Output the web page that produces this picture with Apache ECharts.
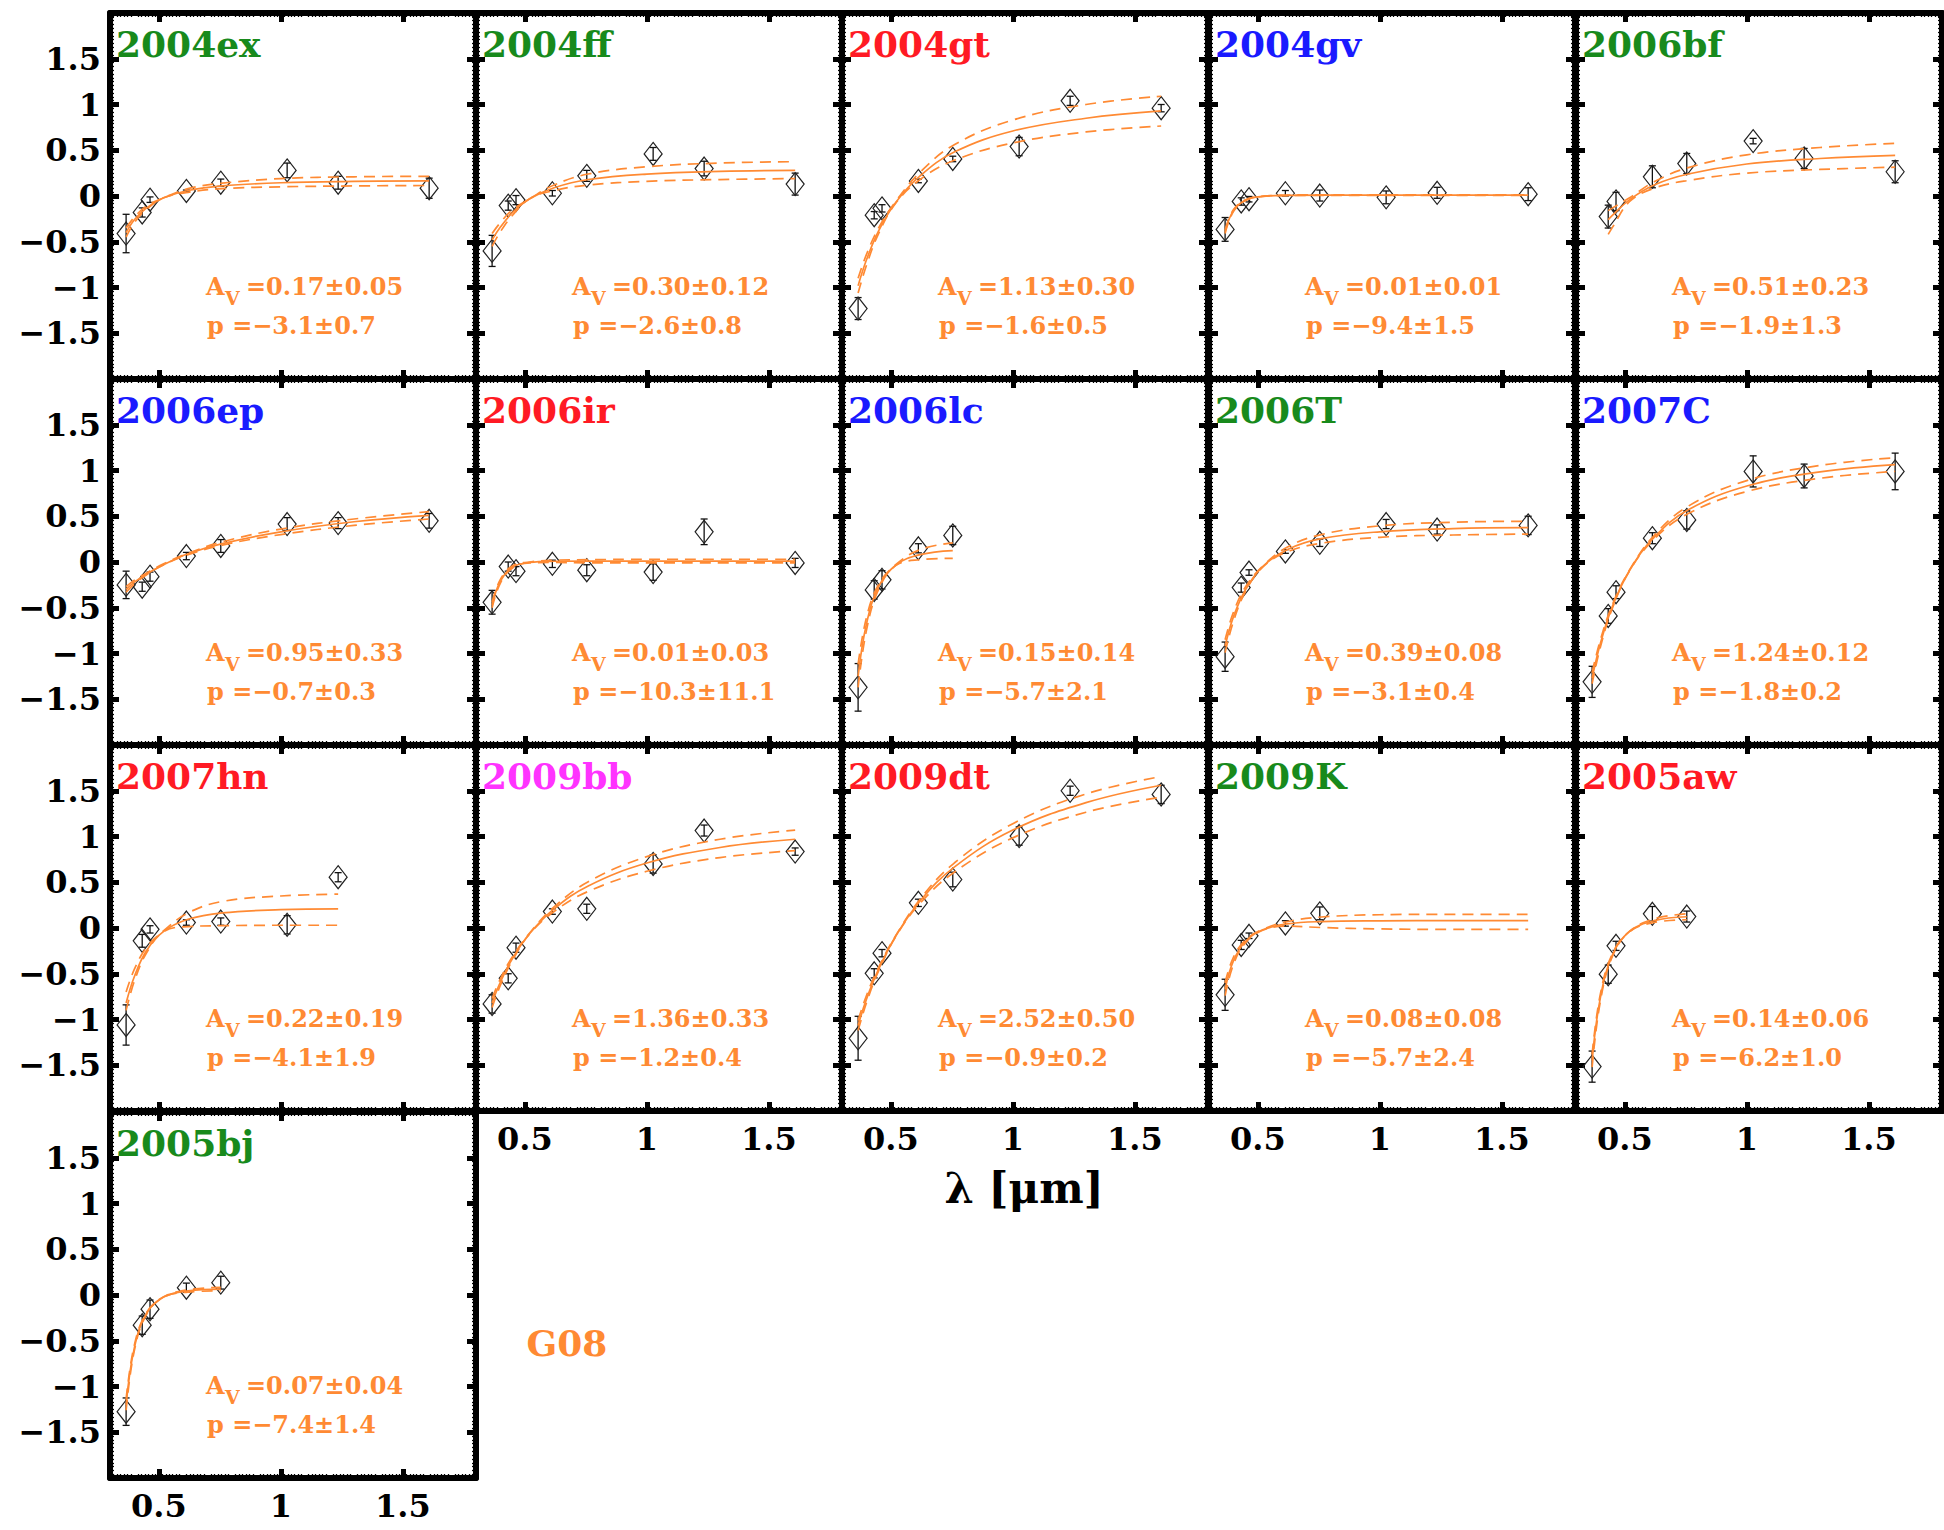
<!DOCTYPE html>
<html><head><meta charset="utf-8">
<script src="https://cdn.jsdelivr.net/npm/echarts@6/dist/echarts.min.js"></script>
<style>html,body{margin:0;padding:0;background:#fff}#c{width:1944px;height:1530px}</style>
</head><body><div id="c"></div>
<script>
// ---------------- DATA ----------------
const panelNames = ['2004ex','2004ff','2004gt','2004gv','2006bf','2006ep','2006ir','2006lc','2006T','2007C','2007hn','2009bb','2009dt','2009K','2005aw','2005bj'];
const nameColors = ['#188a1c','#188a1c','#ff1a24','#1a1aff','#188a1c','#1a1aff','#ff1a24','#1a1aff','#188a1c','#1a1aff','#ff1a24','#ff33ff','#ff1a24','#188a1c','#ff1a24','#188a1c'];
const avLabels = ['0.17\u00b10.05','0.30\u00b10.12','1.13\u00b10.30','0.01\u00b10.01','0.51\u00b10.23','0.95\u00b10.33','0.01\u00b10.03','0.15\u00b10.14','0.39\u00b10.08','1.24\u00b10.12','0.22\u00b10.19','1.36\u00b10.33','2.52\u00b10.50','0.08\u00b10.08','0.14\u00b10.06','0.07\u00b10.04'];
const pLabels = ['\u22123.1\u00b10.7','\u22122.6\u00b10.8','\u22121.6\u00b10.5','\u22129.4\u00b11.5','\u22121.9\u00b11.3','\u22120.7\u00b10.3','\u221210.3\u00b111.1','\u22125.7\u00b12.1','\u22123.1\u00b10.4','\u22121.8\u00b10.2','\u22124.1\u00b11.9','\u22121.2\u00b10.4','\u22120.9\u00b10.2','\u22125.7\u00b12.4','\u22126.2\u00b11.0','\u22127.4\u00b11.4'];

const filterNames = ['u','B','g','r','i','Y','J','H'];
const filterLambda = [0.366, 0.432, 0.464, 0.613, 0.754, 1.026, 1.235, 1.608];
const xTickValues = [0.5, 1, 1.5];

const panelFilters = ['uBgriYJH','uBgriYJH','uBgriYJH','uBgriYJH','BgriYJH','uBgriYJH','uBgriYJH','uBgri','uBgriYJH','uBgriYJH','uBgriYJ','uBgriYJH','uBgriYJH','uBgri','uBgri','uBgri'];

const obsValues = [
  [-0.41,-0.18,-0.04,0.055,0.145,0.28,0.145,0.085],
  [-0.60,-0.105,-0.045,0.03,0.22,0.46,0.30,0.13],
  [-1.23,-0.21,-0.135,0.165,0.405,0.54,1.04,0.96],
  [-0.365,-0.06,-0.035,0.03,0.005,-0.015,0.035,0.02],
  [-0.225,-0.06,0.21,0.355,0.60,0.41,0.265],
  [-0.25,-0.27,-0.16,0.065,0.175,0.415,0.425,0.45],
  [-0.44,-0.05,-0.10,-0.02,-0.09,-0.11,0.33,-0.01],
  [-1.37,-0.305,-0.195,0.15,0.29],
  [-1.035,-0.28,-0.115,0.115,0.21,0.415,0.355,0.40],
  [-1.31,-0.59,-0.33,0.26,0.46,0.99,0.94,0.99],
  [-1.06,-0.14,-0.015,0.06,0.07,0.035,0.555],
  [-0.83,-0.55,-0.215,0.18,0.21,0.70,1.065,0.835],
  [-1.205,-0.495,-0.275,0.275,0.53,1.005,1.50,1.46],
  [-0.73,-0.185,-0.085,0.05,0.16],
  [-1.515,-0.505,-0.195,0.155,0.125],
  [-1.275,-0.33,-0.155,0.08,0.135]
];
const obsErrors = [
  [0.21,0.05,0.03,0.01,0.04,0.08,0.07,0.11],
  [0.17,0.05,0.05,0.03,0.06,0.07,0.08,0.12],
  [0.12,0.04,0.04,0.02,0.03,0.10,0.05,0.04],
  [0.13,0.04,0.03,0.03,0.06,0.07,0.06,0.07],
  [0.125,0.10,0.12,0.11,0.03,0.11,0.12],
  [0.15,0.05,0.05,0.04,0.07,0.07,0.06,0.08],
  [0.13,0.05,0.05,0.04,0.06,0.09,0.14,0.05],
  [0.26,0.10,0.10,0.05,0.10],
  [0.16,0.05,0.03,0.02,0.04,0.05,0.05,0.10],
  [0.17,0.08,0.07,0.06,0.10,0.17,0.13,0.20],
  [0.22,0.07,0.04,0.03,0.04,0.10,0.05],
  [0.10,0.05,0.05,0.03,0.05,0.10,0.06,0.04],
  [0.24,0.05,0.04,0.04,0.08,0.10,0.05,0.10],
  [0.17,0.05,0.03,0.03,0.07],
  [0.17,0.10,0.05,0.08,0.06],
  [0.15,0.10,0.10,0.05,0.07]
];

const fitLambdaFull = [0.366,0.40,0.45,0.52,0.62,0.76,1.0,1.3,1.608];
const fitLambdaNoU = [0.432,0.45,0.52,0.62,0.76,1.0,1.3,1.608];
const fitLambdaOptical = [0.366,0.40,0.45,0.52,0.62,0.754];
const fitLambdaNoH = [0.366,0.40,0.45,0.52,0.62,0.76,1.0,1.235];
const panelFitLambda = [fitLambdaFull,fitLambdaFull,fitLambdaFull,fitLambdaFull,fitLambdaNoU,fitLambdaFull,fitLambdaFull,fitLambdaOptical,fitLambdaFull,fitLambdaFull,fitLambdaNoH,fitLambdaFull,fitLambdaFull,fitLambdaFull,fitLambdaOptical,fitLambdaOptical];

const fitBest = [
  [-0.40,-0.26,-0.13,-0.02,0.06,0.11,0.145,0.16,0.165],
  [-0.48,-0.34,-0.18,-0.03,0.09,0.18,0.24,0.27,0.28],
  [-0.98,-0.70,-0.38,-0.07,0.22,0.48,0.71,0.85,0.93],
  [-0.39,-0.16,-0.045,-0.004,0.007,0.01,0.01,0.01,0.01],
  [-0.26,-0.21,-0.04,0.12,0.24,0.35,0.41,0.445],
  [-0.30,-0.22,-0.13,-0.03,0.09,0.20,0.33,0.44,0.51],
  [-0.47,-0.21,-0.055,-0.005,0.008,0.01,0.01,0.01,0.01],
  [-1.25,-0.68,-0.27,-0.035,0.08,0.125],
  [-0.92,-0.60,-0.30,-0.05,0.135,0.255,0.33,0.365,0.375],
  [-1.27,-0.89,-0.48,-0.09,0.27,0.57,0.83,0.985,1.065],
  [-0.82,-0.53,-0.245,-0.037,0.095,0.165,0.20,0.21],
  [-0.82,-0.59,-0.33,-0.06,0.21,0.46,0.71,0.88,0.97],
  [-1.065,-0.78,-0.45,-0.09,0.295,0.665,1.07,1.37,1.56],
  [-0.67,-0.36,-0.145,-0.02,0.045,0.07,0.078,0.08,0.08],
  [-1.45,-0.76,-0.29,-0.037,0.08,0.123],
  [-1.20,-0.575,-0.20,-0.022,0.045,0.064]
];
const fitUpper = [
  [-0.35,-0.23,-0.11,-0.02,0.08,0.14,0.19,0.21,0.215],
  [-0.41,-0.29,-0.15,-0.03,0.12,0.24,0.32,0.36,0.375],
  [-0.90,-0.64,-0.35,-0.06,0.26,0.56,0.83,1.0,1.09],
  [-0.37,-0.15,-0.04,-0.003,0.009,0.013,0.013,0.013,0.013],
  [-0.16,-0.13,-0.02,0.155,0.31,0.45,0.53,0.575],
  [-0.27,-0.20,-0.12,-0.02,0.095,0.22,0.36,0.47,0.55],
  [-0.44,-0.19,-0.04,0.0,0.02,0.025,0.03,0.03,0.03],
  [-1.12,-0.61,-0.245,-0.03,0.135,0.21],
  [-0.85,-0.55,-0.27,-0.045,0.16,0.30,0.395,0.435,0.445],
  [-1.21,-0.85,-0.46,-0.085,0.29,0.61,0.89,1.055,1.14],
  [-0.70,-0.45,-0.21,-0.03,0.165,0.29,0.35,0.37],
  [-0.77,-0.555,-0.31,-0.055,0.23,0.505,0.78,0.97,1.07],
  [-1.01,-0.74,-0.43,-0.085,0.315,0.71,1.14,1.465,1.655],
  [-0.60,-0.32,-0.13,-0.015,0.07,0.12,0.145,0.15,0.15],
  [-1.38,-0.72,-0.275,-0.035,0.10,0.155],
  [-1.14,-0.545,-0.19,-0.02,0.058,0.083]
];
const fitLower = [
  [-0.45,-0.29,-0.145,-0.02,0.04,0.08,0.10,0.11,0.115],
  [-0.55,-0.39,-0.21,-0.03,0.06,0.12,0.16,0.18,0.19],
  [-1.06,-0.76,-0.41,-0.08,0.18,0.39,0.58,0.70,0.765],
  [-0.41,-0.17,-0.05,-0.005,0.005,0.007,0.007,0.007,0.007],
  [-0.42,-0.34,-0.06,0.085,0.17,0.25,0.29,0.315],
  [-0.33,-0.24,-0.14,-0.03,0.08,0.185,0.30,0.40,0.47],
  [-0.50,-0.23,-0.065,-0.01,-0.005,-0.01,-0.01,-0.01,-0.01],
  [-1.37,-0.75,-0.30,-0.04,0.025,0.04],
  [-0.99,-0.65,-0.32,-0.055,0.11,0.205,0.27,0.295,0.305],
  [-1.33,-0.93,-0.50,-0.095,0.25,0.53,0.77,0.915,0.99],
  [-0.90,-0.58,-0.27,-0.04,0.015,0.025,0.03,0.03],
  [-0.87,-0.625,-0.35,-0.065,0.18,0.40,0.62,0.77,0.845],
  [-1.12,-0.82,-0.47,-0.095,0.27,0.61,0.985,1.265,1.43],
  [-0.74,-0.40,-0.16,-0.025,0.02,0.005,-0.01,-0.015,-0.015],
  [-1.52,-0.80,-0.305,-0.04,0.06,0.09],
  [-1.26,-0.605,-0.21,-0.024,0.032,0.045]
];

// ---------------- LAYOUT / STYLE ----------------
const ORANGE = '#ff8a33';
const SERIF = '"DejaVu Serif", "Liberation Serif", serif';
const LEFTS = [110, 476, 842, 1209, 1576];
const TOPS = [13, 379, 745, 1112];
const PW = 366, PH = 366;
const showXLabels = [11, 12, 13, 14, 15];
const showYLabels = [0, 5, 10, 15];
const fmt = v => (v < 0 ? '\u2212' : '') + Math.abs(v);

const chart = echarts.init(document.getElementById('c'), null, {renderer: 'svg', width: 1944, height: 1530});
const grid = [], xAxis = [], yAxis = [], series = [], graphic = [];

panelNames.forEach((name, i) => {
  const col = i % 5, row = Math.floor(i / 5);
  const L = LEFTS[col], T = TOPS[row];
  grid.push({left: L, top: T, width: PW, height: PH, containLabel: false, outerBoundsMode: 'none'});
  const axisLine = {show: true, onZero: false, lineStyle: {color: '#000', width: 6}};
  const labelStyle = {fontFamily: SERIF, fontWeight: 'bold', fontSize: 32, color: '#000'};
  ['bottom', 'top'].forEach((pos, k) => {
    xAxis.push({
      type: 'value', gridIndex: i, position: pos, min: 0.3, max: 1.8, interval: 0.1,
      axisLine: axisLine,
      axisTick: {show: true, inside: true, length: 9, customValues: xTickValues, lineStyle: {color: '#000', width: 5}},
      minorTick: {show: true, splitNumber: 7, length: 4, lineStyle: {color: '#000', width: 1.3}},
      axisLabel: Object.assign({show: k === 0 && showXLabels.includes(i), customValues: xTickValues, margin: 12,
        showMinLabel: true, showMaxLabel: true, formatter: fmt}, labelStyle),
      splitLine: {show: false}, minorSplitLine: {show: false}
    });
  });
  ['left', 'right'].forEach((pos, k) => {
    yAxis.push({
      type: 'value', gridIndex: i, position: pos, min: -2, max: 2, interval: 0.5,
      axisLine: axisLine,
      axisTick: {show: true, inside: true, length: 9, lineStyle: {color: '#000', width: 5}},
      minorTick: {show: true, splitNumber: 12, length: 4, lineStyle: {color: '#000', width: 1.3}},
      axisLabel: Object.assign({show: k === 0 && showYLabels.includes(i), margin: 9,
        showMinLabel: false, showMaxLabel: false, formatter: fmt}, labelStyle),
      splitLine: {show: false}, minorSplitLine: {show: false}
    });
  });

  const fx = panelFitLambda[i];
  const mk = arr => fx.map((x, j) => [x, arr[j]]);
  const base = {type: 'line', xAxisIndex: 2 * i, yAxisIndex: 2 * i, showSymbol: false, symbol: 'none',
    smooth: 0.4, silent: true, z: 3};
  series.push(Object.assign({}, base, {data: mk(fitBest[i]), lineStyle: {color: ORANGE, width: 1.7}}));
  series.push(Object.assign({}, base, {data: mk(fitUpper[i]), lineStyle: {color: ORANGE, width: 1.7, type: [11, 7]}}));
  series.push(Object.assign({}, base, {data: mk(fitLower[i]), lineStyle: {color: ORANGE, width: 1.7, type: [11, 7]}}));

  const pts = panelFilters[i].split('').map((f, j) => [filterLambda[filterNames.indexOf(f)], obsValues[i][j], obsErrors[i][j]]);
  series.push({
    type: 'custom', xAxisIndex: 2 * i, yAxisIndex: 2 * i, data: pts, silent: true, z: 2,
    renderItem: (params, api) => {
      const x = api.value(0), y = api.value(1), e = api.value(2);
      const c = api.coord([x, y]), t = api.coord([x, y + e]), b = api.coord([x, y - e]);
      const st = {stroke: '#111', lineWidth: 1.3, fill: 'none'};
      return {type: 'group', children: [
        {type: 'line', shape: {x1: c[0], y1: t[1], x2: c[0], y2: b[1]}, style: st},
        {type: 'line', shape: {x1: c[0] - 3.5, y1: t[1], x2: c[0] + 3.5, y2: t[1]}, style: st},
        {type: 'line', shape: {x1: c[0] - 3.5, y1: b[1], x2: c[0] + 3.5, y2: b[1]}, style: st},
        {type: 'polygon', shape: {points: [[c[0], c[1] - 11.5], [c[0] + 9, c[1]], [c[0], c[1] + 11.5], [c[0] - 9, c[1]]]},
          style: {stroke: '#222', lineWidth: 1.2, fill: 'none'}}
      ]};
    }
  });

  graphic.push({type: 'text', x: L + 6, y: T + 31, z: 10,
    style: {text: name, fill: nameColors[i], font: 'bold 36px ' + SERIF, align: 'left', verticalAlign: 'middle'}});
  graphic.push({type: 'text', x: L + 96, y: T + 273, z: 10,
    style: {text: 'A', fill: ORANGE, font: 'bold 24px ' + SERIF, align: 'left', verticalAlign: 'middle'}});
  graphic.push({type: 'text', x: L + 115, y: T + 285, z: 10,
    style: {text: 'V', fill: ORANGE, font: 'bold 19px ' + SERIF, align: 'left', verticalAlign: 'middle'}});
  graphic.push({type: 'text', x: L + 136, y: T + 273, z: 10,
    style: {text: '=' + avLabels[i], fill: ORANGE, font: 'bold 24px ' + SERIF, align: 'left', verticalAlign: 'middle'}});
  graphic.push({type: 'text', x: L + 97, y: T + 312, z: 10,
    style: {text: 'p =' + pLabels[i], fill: ORANGE, font: 'bold 24px ' + SERIF, align: 'left', verticalAlign: 'middle'}});
});

graphic.push({type: 'text', x: 1024, y: 1188, z: 10,
  style: {text: '\u03bb [\u03bcm]', fill: '#000', font: 'bold 42px ' + SERIF, align: 'center', verticalAlign: 'middle'}});
graphic.push({type: 'text', x: 567, y: 1343, z: 10,
  style: {text: 'G08', fill: ORANGE, font: 'bold 36px ' + SERIF, align: 'center', verticalAlign: 'middle'}});

chart.setOption({
  animation: false,
  backgroundColor: '#fff',
  grid, xAxis, yAxis, series, graphic
});
</script>
</body></html>
